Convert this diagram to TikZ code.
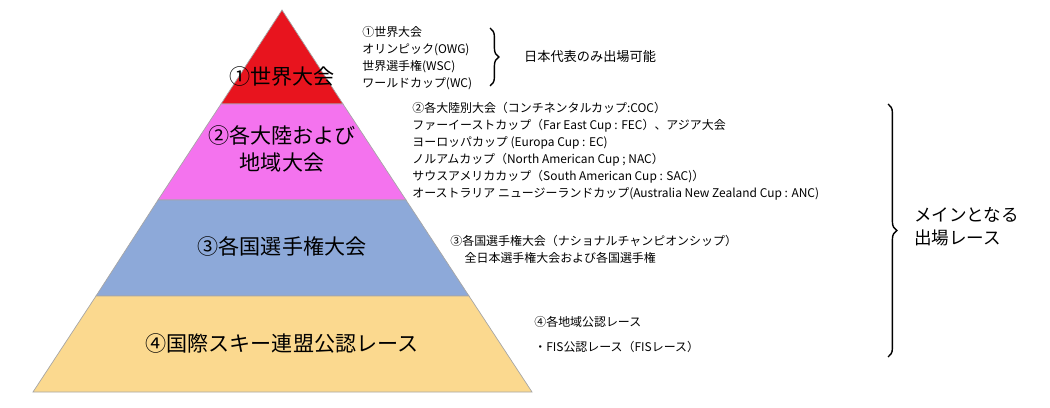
\documentclass[tikz,border=0pt]{standalone}
\usepackage{fontspec}
\setmainfont{Noto Sans CJK JP}
\usetikzlibrary{decorations.pathreplacing}
\definecolor{tierred}{HTML}{E8141E}
\definecolor{tiermag}{HTML}{F473EE}
\definecolor{tierblue}{HTML}{8DA9D9}
\definecolor{tierorange}{HTML}{FBD98F}

\begin{document}
\begin{tikzpicture}[x=0.02cm,y=-0.02cm,
    tier/.style={draw=gray!70,line width=0.4pt},
    tierlabel/.style={font=\fontsize{12}{15}\selectfont,align=center},
    note/.style={font=\fontsize{6.8}{9.6}\selectfont,anchor=north west,align=left,inner sep=0pt},
    bracket/.style={decorate,decoration={brace,amplitude=5pt},line width=0.8pt}]
\useasboundingbox (0,0) rectangle (1050,408);
% tiers of the pyramid
\filldraw[tier,fill=tierred] (282,10) -- (343,104) -- (221,104) -- cycle;
\filldraw[tier,fill=tiermag] (221,104) -- (343,104) -- (406,200) -- (158,200) -- cycle;
\filldraw[tier,fill=tierblue] (158,200) -- (406,200) -- (469,296) -- (96,296) -- cycle;
\filldraw[tier,fill=tierorange] (96,296) -- (469,296) -- (532,392) -- (33,392) -- cycle;
\node[tierlabel] (world) at (282,76) {①世界大会};
\node[tierlabel] (continent) at (282,149) {②各大陸および\\地域大会};
\node[tierlabel] (national) at (282,246) {③各国選手権大会};
\node[tierlabel] (fis) at (282,343) {④国際スキー連盟公認レース};

% notes
\node[note] (worldnote) at (362,26) {①世界大会\\オリンピック(OWG)\\世界選手権(WSC)\\ワールドカップ(WC)};
\draw[bracket] (490,28) -- (490,86);
\node[font=\fontsize{7.5}{9}\selectfont,anchor=west] (japanonly) at (518,57) {日本代表のみ出場可能};
\node[note,font=\fontsize{6.8}{9.7}\selectfont] (contnote) at (412,102) {②各大陸別大会（コンチネンタルカップ:COC）\\ファーイーストカップ（Far East Cup : FEC）、アジア大会\\ヨーロッパカップ (Europa Cup : EC)\\ノルアムカップ（North American Cup ; NAC）\\サウスアメリカカップ（South American Cup : SAC)）\\オーストラリア ニュージーランドカップ(Australia New Zealand Cup : ANC)};
\node[note] (natnote) at (450,235) {③各国選手権大会（ナショナルチャンピオンシップ）\\\hspace{1.2em}全日本選手権大会および各国選手権};
\node[note] (fisnote) at (534,316) {④各地域公認レース};
\node[note] (fisrace) at (534,341) {・FIS公認レース（FISレース）};
\draw[bracket] (888,104) -- (888,357);
\node[font=\fontsize{10}{13}\selectfont,align=left,anchor=west] (main) at (908,227) {メインとなる\\出場レース};
\end{tikzpicture}
\end{document}
